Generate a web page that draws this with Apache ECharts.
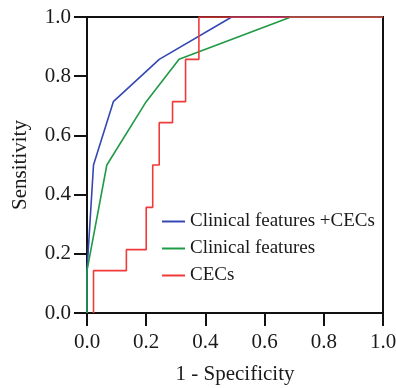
<!DOCTYPE html>
<html>
<head>
<meta charset="utf-8">
<script src="https://cdn.jsdelivr.net/npm/echarts@6/dist/echarts.min.js"></script>
<style>
html,body{margin:0;padding:0;background:#fff;}
#rocChart{width:396px;height:388px;}
</style>
</head>
<body>
<div id="rocChart"></div>
<script>
// ROC curves
var seriesNames = ['Clinical features +CECs', 'Clinical features', 'CECs'];
var colors = ['#3447b5', '#1f9a45', '#f03a3a'];
// 1 - specificity / sensitivity
var combinedFpr = [0, 0, 0.022, 0.089, 0.244, 0.489, 1.0];
var combinedTpr = [0, 0.143, 0.5, 0.714, 0.857, 1.0, 1.0];
var clinicalFpr = [0, 0, 0.067, 0.2, 0.311, 0.689, 1.0];
var clinicalTpr = [0, 0.143, 0.5, 0.714, 0.857, 1.0, 1.0];
var cecsFpr = [0.022, 0.022, 0.133, 0.133, 0.2, 0.2, 0.222, 0.222, 0.244, 0.244, 0.289, 0.289, 0.333, 0.333, 0.378, 0.378, 1.0];
var cecsTpr = [0, 0.143, 0.143, 0.214, 0.214, 0.357, 0.357, 0.5, 0.5, 0.643, 0.643, 0.714, 0.714, 0.857, 0.857, 1.0, 1.0];

function zip(xs, ys){
	var arr = [];
	for(var i=0;i<xs.length;i++){
		arr.push([xs[i], ys[i]]);
	}
	return arr;
}

var allX = [combinedFpr, clinicalFpr, cecsFpr];
var allY = [combinedTpr, clinicalTpr, cecsTpr];
var series = [];
for(var k=0;k<seriesNames.length;k++){
	series.push({
		name: seriesNames[k],
		type: 'line',
		symbol: 'none',
		data: zip(allX[k], allY[k]),
		lineStyle: {color: colors[k], width: 1.6},
		itemStyle: {color: colors[k]}
	});
}

function makeAxis(name, gap, margin){
	return {
		type: 'value', min: 0, max: 1, interval: 0.2,
		splitLine: {show: false},
		axisLine: {show: true, lineStyle: {color: '#111', width: 2}},
		axisTick: {show: true, length: 13, lineStyle: {color: '#111', width: 2}},
		axisLabel: {margin: margin, formatter: function(x){ return x.toFixed(1); },
			fontFamily: 'Liberation Serif', fontSize: 21, color: '#1a1a1a'},
		name: name, nameLocation: 'middle', nameGap: gap,
		nameTextStyle: {fontFamily: 'Liberation Serif', fontSize: 21, color: '#1a1a1a'}
	};
}

var myChart = echarts.init(document.getElementById('rocChart'));
myChart.setOption({
	animation: false,
	grid: {
		left: 87, right: 13, top: 17, bottom: 75,
		outerBoundsMode: 'none',
		show: true, borderColor: '#111', borderWidth: 2
	},
	legend: {
		orient: 'vertical',
		left: 162,
		top: 212,
		padding: 0,
		icon: 'rect',
		itemWidth: 23,
		itemHeight: 2,
		itemGap: 8,
		textStyle: {fontFamily: 'Liberation Serif', fontSize: 19, color: '#1a1a1a'},
		data: seriesNames
	},
	xAxis: makeAxis('1 - Specificity', 51, 19),
	yAxis: makeAxis('Sensitivity', 56, 16),
	series: series
});
</script>
</body>
</html>
